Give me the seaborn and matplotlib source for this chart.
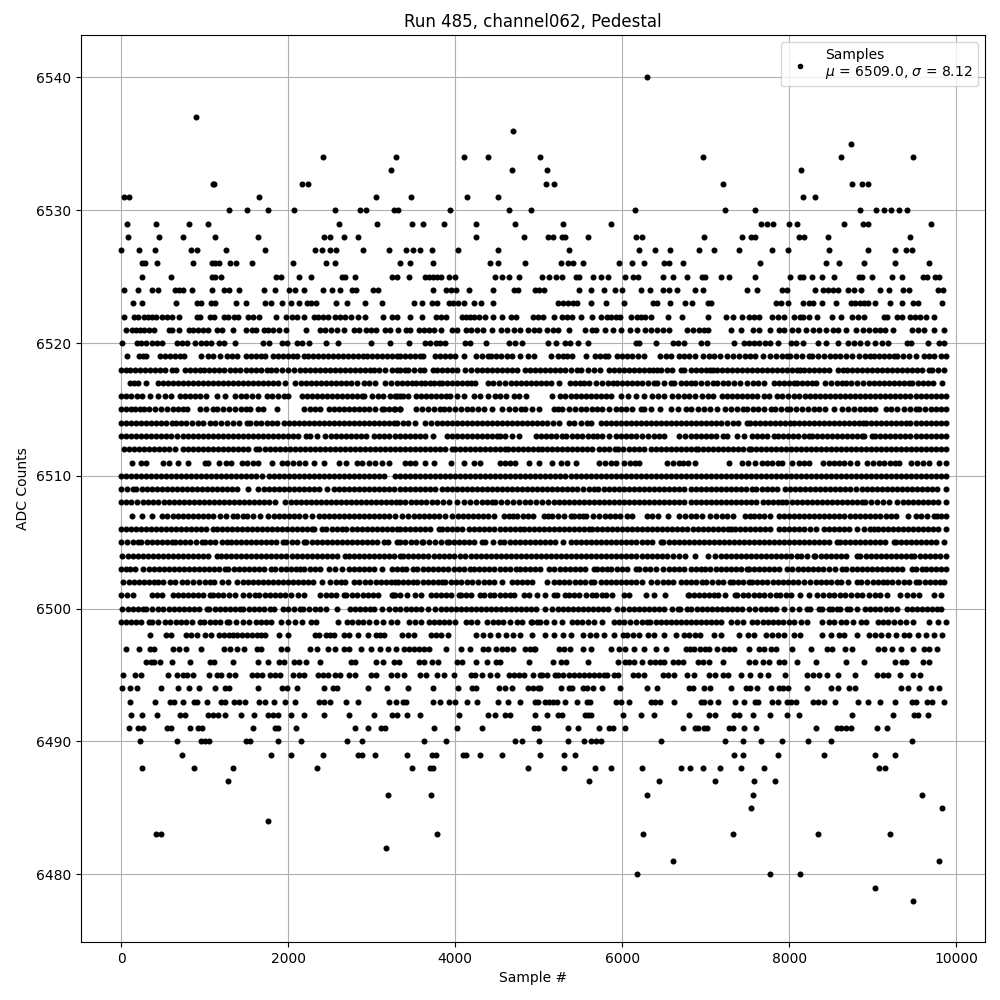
# Pedestal samples for one channel (one list per ADC value)
import pandas as pd
import matplotlib
matplotlib.use("Agg")
import matplotlib.pyplot as plt
import seaborn as sns

lvl_6540 = [6300]
lvl_6537 = [900]
lvl_6536 = [4692]
lvl_6535 = [8743]
lvl_6534 = [2412, 3288, 4104, 4392, 5020, 6971, 8623, 9485]
lvl_6533 = [3228, 4680, 5103, 8144]
lvl_6532 = [1100, 1115, 2160, 2232, 5092, 5187, 7210, 8754, 8874, 8946]
lvl_6531 = [32, 100, 1656, 3048, 3468, 4144, 4512, 8168, 8312]
lvl_6530 = [1296, 1512, 1764, 2064, 2556, 2856, 2928, 3272, 3312, 3936, 4644, 4908, 6157, 7234, 7593, 8850, 9042, 9137, 9221, 9317, 9413]
lvl_6529 = [72, 420, 816, 1044, 2604, 3060, 3480, 3612, 3864, 4248, 4716, 5295, 5870, 7665, 7737, 7809, 8000, 8096, 8659, 8886, 8946, 9700]
lvl_6528 = [84, 456, 744, 1128, 1644, 2424, 2496, 2664, 2832, 4248, 4824, 5115, 5175, 5283, 5319, 5594, 6169, 6241, 6983, 7437, 7545, 7593, 8120, 8180, 8467, 9449]
lvl_6527 = [0, 216, 408, 840, 904, 1260, 1728, 2316, 2400, 2496, 2576, 2892, 3204, 3408, 3492, 3576, 3720, 4032, 4512, 5367, 6205, 6396, 6576, 6923, 7102, 7402, 7797, 7988, 8479, 8946, 9269, 9401, 9473]
lvl_6526 = [252, 284, 432, 864, 1092, 1124, 1176, 1308, 1376, 1568, 2052, 2448, 2556, 3336, 3456, 3732, 4416, 4512, 4836, 5271, 5355, 5415, 5534, 5965, 6121, 6265, 6504, 6564, 6731, 7653, 8443, 8599, 8898, 9269, 9676]
lvl_6525 = [252, 600, 1092, 1124, 1200, 1852, 1920, 2124, 2268, 2640, 2684, 2796, 3240, 3300, 3444, 3636, 3684, 3732, 3780, 3828, 3924, 3996, 4476, 4560, 4644, 4764, 5044, 5127, 5211, 5283, 5451, 5487, 5654, 5750, 5834, 6037, 6133, 6193, 6492, 6612, 6779, 6959, 6995, 7186, 7282, 7593, 8012, 8132, 8168, 8275, 8395, 8539, 8838, 8874, 8994, 9233, 9353, 9604, 9652, 9748, 9796]
lvl_6524 = [36, 204, 372, 444, 648, 696, 744, 852, 1092, 1236, 1296, 1416, 1716, 1848, 2016, 2076, 2184, 2412, 2520, 2616, 2760, 2808, 3012, 3072, 3732, 3888, 3948, 4008, 4164, 4452, 4704, 4752, 4956, 5008, 5068, 5487, 5630, 5786, 5917, 6001, 6229, 6336, 6492, 6564, 6660, 6875, 6971, 7497, 7617, 7916, 7976, 8312, 8407, 8467, 8527, 8587, 8706, 8778, 8862, 9089, 9197, 9365, 9437, 9784, 9844]
lvl_6523 = [144, 252, 660, 912, 960, 1080, 1128, 1380, 1500, 1728, 1800, 1932, 2028, 2128, 2220, 2268, 2328, 2568, 2700, 2916, 3120, 3504, 3600, 3720, 3780, 3924, 3972, 4032, 4104, 4224, 4308, 4452, 5235, 5295, 5355, 5415, 5455, 5630, 5810, 6025, 6372, 6420, 6576, 6755, 6839, 7031, 7067, 7845, 7905, 7988, 8168, 8240, 8288, 8395, 8563, 8742, 8790, 8850, 8898, 8946, 9030, 9209, 9353, 9484, 9544, 9832]
lvl_6522 = [36, 156, 204, 276, 324, 372, 420, 492, 552, 612, 696, 912, 948, 1068, 1116, 1236, 1284, 1356, 1404, 1524, 1584, 1656, 1860, 1980, 2040, 2100, 2184, 2304, 2352, 2412, 2472, 2556, 2616, 2676, 2748, 2832, 2916, 3132, 3240, 3300, 3456, 3600, 3768, 3828, 3888, 4080, 4128, 4176, 4224, 4284, 4356, 4452, 4560, 4668, 4728, 4936, 4996, 5056, 5187, 5283, 5343, 5403, 5511, 5642, 5750, 5822, 5870, 5929, 5977, 6109, 6181, 6229, 6277, 6348, 6552, 6719, 7031, 7246, 7330, 7437, 7521, 7581, 7641, 7797, 7869, 7940, 8060, 8132, 8168, 8240, 8336, 8515, 8623, 8754, 8826, 8898, 9137, 9173, 9293, 9353, 9449, 9508, 9568, 9640, 9736]
lvl_6521 = [60, 132, 180, 228, 276, 336, 396, 576, 612, 696, 816, 864, 924, 984, 1044, 1152, 1212, 1344, 1500, 1572, 1620, 1716, 1764, 1824, 1896, 1980, 2208, 2376, 2436, 2508, 2580, 2664, 2784, 2844, 2928, 2988, 3048, 3156, 3216, 3312, 3408, 3456, 3564, 3624, 3684, 3744, 3828, 3960, 4020, 4128, 4188, 4260, 4332, 4440, 4548, 4620, 4704, 4776, 4872, 4944, 5004, 5103, 5175, 5235, 5367, 5558, 5642, 5690, 5798, 5893, 5989, 6097, 6181, 6277, 6348, 6420, 6492, 6564, 6779, 6851, 6923, 6983, 7031, 7306, 7426, 7569, 7641, 7773, 7880, 7940, 8036, 8108, 8204, 8288, 8359, 8443, 8527, 8587, 8683, 8802, 8886, 8957, 9030, 9089, 9149, 9245, 9473, 9544, 9616, 9736, 9856]
lvl_6520 = [12, 192, 240, 300, 372, 432, 492, 672, 732, 792, 888, 960, 1020, 1080, 1176, 1236, 1368, 1704, 1776, 1932, 1992, 2100, 2160, 2244, 2448, 2592, 2988, 3216, 3444, 3636, 3696, 3768, 3816, 3876, 4116, 4176, 4368, 4644, 4716, 4800, 5115, 5211, 5319, 5379, 5475, 5594, 6169, 6205, 6408, 6612, 6672, 6744, 6947, 7019, 7342, 7462, 7521, 7581, 7641, 7713, 7773, 7869, 8024, 8084, 8168, 8347, 8443, 8587, 8706, 8778, 8850, 8934, 9030, 9113, 9185, 9413, 9460, 9664, 9796, 9856]
lvl_6519 = [72, 216, 260, 304, 464, 520, 580, 640, 700, 752, 960, 1044, 1100, 1184, 1264, 1330, 1392, 1492, 1550, 1610, 1670, 1724, 1816, 1880, 1940, 2000, 2060, 2104, 2184, 2240, 2300, 2360, 2420, 2480, 2540, 2600, 2660, 2720, 2780, 2840, 2900, 2944, 3004, 3060, 3120, 3180, 3240, 3300, 3344, 3400, 3460, 3520, 3580, 3620, 3752, 3820, 3880, 3940, 4000, 4108, 4252, 4320, 4388, 4428, 4490, 4550, 4620, 4680, 4780, 4868, 4940, 5152, 5232, 5290, 5340, 5400, 5560, 5668, 5730, 5790, 5828, 5940, 6000, 6060, 6120, 6190, 6260, 6452, 6520, 6580, 6680, 6740, 6800, 6871, 6963, 7043, 7099, 7170, 7251, 7331, 7400, 7470, 7530, 7591, 7683, 7771, 7840, 7910, 7971, 8011, 8080, 8150, 8231, 8271, 8340, 8420, 8491, 8551, 8611, 8680, 8751, 8831, 8900, 8960, 9011, 9070, 9130, 9190, 9251, 9291, 9360, 9430, 9511, 9611, 9670, 9731, 9811, 9871]
lvl_6518 = [0, 55, 112, 170, 228, 290, 350, 410, 470, 530, 604, 656, 764, 824, 890, 944, 992, 1050, 1110, 1170, 1230, 1300, 1364, 1424, 1490, 1550, 1610, 1676, 1744, 1792, 1860, 1930, 2000, 2064, 2136, 2204, 2260, 2320, 2380, 2440, 2500, 2560, 2620, 2680, 2740, 2800, 2860, 2920, 2980, 3024, 3084, 3164, 3244, 3300, 3344, 3400, 3440, 3510, 3580, 3628, 3732, 3780, 3840, 3900, 3960, 4020, 4120, 4190, 4260, 4320, 4380, 4440, 4500, 4560, 4620, 4680, 4740, 4840, 4900, 4960, 5020, 5080, 5140, 5200, 5260, 5320, 5390, 5460, 5508, 5588, 5660, 5732, 5840, 5900, 5960, 6020, 6080, 6140, 6200, 6260, 6320, 6370, 6420, 6460, 6530, 6600, 6700, 6740, 6820, 6880, 6940, 7000, 7050, 7091, 7131, 7190, 7250, 7310, 7370, 7430, 7490, 7550, 7610, 7670, 7730, 7790, 7850, 7910, 7970, 8030, 8090, 8131, 8179, 8240, 8300, 8350, 8411, 8471, 8579, 8640, 8691, 8751, 8810, 8870, 8930, 8990, 9050, 9110, 9170, 9230, 9290, 9350, 9410, 9470, 9530, 9590, 9671, 9711, 9780, 9851]
lvl_6517 = [104, 150, 204, 304, 444, 500, 560, 620, 680, 740, 800, 860, 920, 980, 1040, 1100, 1160, 1220, 1280, 1340, 1400, 1460, 1520, 1580, 1640, 1700, 1760, 1820, 1880, 1964, 2084, 2150, 2210, 2270, 2330, 2390, 2450, 2510, 2570, 2630, 2690, 2750, 2824, 2904, 2970, 3044, 3164, 3230, 3304, 3360, 3420, 3480, 3532, 3590, 3640, 3692, 3740, 3800, 3840, 3900, 3960, 4020, 4080, 4140, 4190, 4240, 4388, 4450, 4520, 4600, 4668, 4730, 4790, 4850, 4910, 4970, 5030, 5090, 5150, 5240, 5368, 5430, 5490, 5540, 5600, 5680, 5760, 5830, 5892, 5940, 6000, 6060, 6120, 6180, 6240, 6310, 6380, 6420, 6500, 6580, 6620, 6700, 6760, 6820, 6871, 6939, 7010, 7083, 7131, 7200, 7270, 7340, 7411, 7491, 7560, 7630, 7699, 7811, 7870, 7930, 7990, 8051, 8091, 8150, 8210, 8270, 8323, 8431, 8499, 8570, 8630, 8683, 8739, 8811, 8883, 8950, 9010, 9070, 9130, 9190, 9250, 9310, 9370, 9430, 9471, 9539, 9603, 9660, 9723, 9831]
lvl_6516 = [0, 60, 120, 190, 256, 352, 444, 520, 592, 704, 770, 830, 890, 950, 1016, 1144, 1244, 1364, 1430, 1500, 1570, 1644, 1744, 1810, 1880, 1950, 2004, 2164, 2230, 2290, 2350, 2410, 2470, 2530, 2590, 2650, 2710, 2770, 2830, 2884, 2904, 3004, 3070, 3140, 3224, 3284, 3344, 3300, 3370, 3440, 3532, 3590, 3650, 3710, 3770, 3830, 3892, 3940, 4020, 4100, 4220, 4300, 4390, 4480, 4540, 4612, 4700, 4760, 4852, 5160, 5260, 5320, 5380, 5440, 5500, 5560, 5620, 5680, 5740, 5800, 5860, 5980, 6070, 6160, 6260, 6360, 6430, 6500, 6600, 6670, 6740, 6800, 6870, 6950, 7020, 7091, 7191, 7250, 7310, 7370, 7430, 7490, 7550, 7610, 7691, 7751, 7851, 7910, 7980, 8050, 8111, 8191, 8251, 8311, 8370, 8430, 8490, 8550, 8610, 8670, 8730, 8790, 8850, 8910, 8970, 9030, 9090, 9150, 9210, 9270, 9330, 9390, 9450, 9510, 9570, 9630, 9690, 9750, 9810, 9871]
lvl_6515 = [0, 60, 120, 170, 224, 272, 340, 410, 480, 550, 624, 684, 740, 792, 944, 1020, 1104, 1152, 1220, 1290, 1360, 1430, 1500, 1544, 1644, 1704, 1872, 2192, 2260, 2320, 2384, 2484, 2550, 2610, 2670, 2730, 2790, 2844, 2910, 2970, 3040, 3124, 3144, 3204, 3270, 3344, 3280, 3340, 3532, 3600, 3670, 3750, 3820, 3860, 3930, 4000, 4070, 4140, 4200, 4270, 4350, 4440, 4560, 4640, 4710, 4788, 4840, 4920, 5000, 5180, 5232, 5280, 5360, 5430, 5500, 5570, 5640, 5692, 5760, 5840, 5920, 5980, 6050, 6120, 6220, 6260, 6340, 6452, 6580, 6670, 6760, 6823, 6911, 6980, 7051, 7139, 7231, 7300, 7370, 7443, 7491, 7560, 7630, 7700, 7779, 7831, 7900, 7971, 8011, 8080, 8150, 8220, 8290, 8360, 8430, 8531, 8631, 8700, 8770, 8840, 8910, 8970, 9031, 9151, 9220, 9291, 9371, 9440, 9511, 9551, 9620, 9690, 9760, 9820, 9871]
lvl_6514 = [0, 60, 120, 180, 240, 300, 360, 420, 480, 540, 604, 656, 720, 780, 850, 920, 984, 1064, 1130, 1200, 1270, 1340, 1410, 1504, 1544, 1610, 1680, 1750, 1810, 1872, 1952, 2010, 2070, 2130, 2190, 2250, 2310, 2370, 2430, 2490, 2550, 2610, 2670, 2730, 2790, 2850, 2910, 2970, 3030, 3090, 3150, 3210, 3270, 3304, 3380, 3440, 3520, 3640, 3710, 3780, 3840, 3900, 3960, 4020, 4080, 4140, 4200, 4260, 4320, 4380, 4440, 4500, 4560, 4620, 4680, 4740, 4800, 4860, 4920, 4980, 5040, 5100, 5170, 5240, 5360, 5420, 5500, 5580, 5620, 5740, 5800, 5860, 5920, 5980, 6040, 6100, 6160, 6220, 6280, 6340, 6400, 6460, 6520, 6580, 6640, 6700, 6760, 6820, 6883, 6939, 7000, 7060, 7120, 7179, 7251, 7320, 7390, 7491, 7531, 7591, 7650, 7710, 7770, 7830, 7890, 7950, 8010, 8060, 8111, 8171, 8230, 8290, 8350, 8410, 8470, 8530, 8590, 8650, 8710, 8770, 8830, 8883, 8923, 8980, 9040, 9100, 9160, 9220, 9280, 9340, 9400, 9443, 9511, 9579, 9640, 9700, 9760, 9820, 9871]
lvl_6513 = [0, 60, 120, 180, 240, 300, 360, 420, 480, 540, 600, 672, 744, 800, 860, 920, 980, 1040, 1100, 1160, 1220, 1280, 1340, 1400, 1460, 1520, 1580, 1640, 1700, 1760, 1820, 1880, 1940, 2000, 2060, 2120, 2216, 2264, 2344, 2444, 2510, 2570, 2630, 2690, 2750, 2810, 2870, 2930, 3024, 3084, 3150, 3210, 3280, 3344, 3400, 3460, 3520, 3580, 3640, 3732, 3900, 3960, 4020, 4080, 4140, 4200, 4260, 4320, 4380, 4440, 4500, 4540, 4600, 4680, 4760, 4972, 5030, 5090, 5150, 5210, 5280, 5332, 5400, 5452, 5520, 5590, 5650, 5700, 5760, 5840, 5920, 5990, 6050, 6100, 6160, 6240, 6310, 6380, 6440, 6500, 6680, 6750, 6820, 6880, 6940, 7000, 7060, 7120, 7203, 7251, 7379, 7459, 7551, 7611, 7671, 7731, 7811, 7859, 7920, 7980, 8040, 8100, 8170, 8231, 8271, 8330, 8390, 8450, 8510, 8570, 8630, 8690, 8750, 8810, 8871, 8899, 8991, 9031, 9090, 9150, 9210, 9270, 9330, 9390, 9450, 9510, 9570, 9630, 9690, 9750, 9810, 9871]
lvl_6512 = [32, 90, 150, 210, 270, 330, 390, 450, 510, 576, 644, 736, 800, 860, 920, 980, 1040, 1100, 1160, 1220, 1280, 1340, 1400, 1460, 1520, 1616, 1656, 1720, 1780, 1840, 1900, 1960, 2020, 2080, 2140, 2200, 2260, 2320, 2380, 2440, 2500, 2560, 2620, 2680, 2740, 2800, 2860, 2920, 2980, 3040, 3100, 3160, 3220, 3280, 3344, 3400, 3460, 3520, 3580, 3640, 3700, 3760, 3820, 3880, 3960, 4000, 4060, 4120, 4180, 4240, 4300, 4360, 4420, 4480, 4540, 4600, 4628, 4690, 4750, 4810, 4870, 4930, 4988, 5040, 5100, 5160, 5220, 5280, 5340, 5400, 5460, 5520, 5580, 5640, 5720, 5780, 5840, 5908, 5948, 6012, 6080, 6140, 6200, 6260, 6340, 6400, 6460, 6520, 6580, 6640, 6700, 6760, 6820, 6883, 6911, 6970, 7030, 7090, 7150, 7210, 7270, 7330, 7390, 7450, 7511, 7539, 7600, 7660, 7720, 7780, 7840, 7900, 7960, 8020, 8080, 8140, 8200, 8260, 8320, 8380, 8440, 8500, 8560, 8620, 8680, 8740, 8800, 8860, 8920, 8980, 9040, 9100, 9160, 9220, 9280, 9340, 9400, 9460, 9520, 9580, 9640, 9700, 9760, 9820, 9871]
lvl_6511 = [132, 244, 304, 504, 576, 684, 804, 1004, 1044, 1176, 1256, 1312, 1444, 1510, 1584, 1644, 1804, 1924, 1990, 2060, 2130, 2200, 2304, 2424, 2604, 2696, 2824, 2884, 2964, 3040, 3120, 3204, 3400, 3460, 3520, 3640, 3740, 3952, 4100, 4220, 4300, 4540, 4600, 4660, 4720, 4880, 5000, 5160, 5268, 5340, 5440, 5720, 5790, 5860, 5920, 6020, 6090, 6150, 6200, 6540, 6610, 6680, 6731, 6791, 6871, 7283, 7431, 7510, 7591, 7671, 7730, 7791, 7859, 7911, 8031, 8111, 8170, 8231, 8403, 8471, 8530, 8591, 8651, 8731, 8811, 8931, 9000, 9070, 9131, 9203, 9260, 9311, 9451, 9530, 9600, 9671, 9791, 9871]
lvl_6510 = [0, 60, 120, 180, 240, 300, 360, 420, 480, 540, 600, 660, 720, 780, 840, 900, 960, 1020, 1080, 1140, 1200, 1260, 1320, 1380, 1440, 1500, 1560, 1620, 1690, 1770, 1830, 1890, 1950, 2010, 2070, 2130, 2190, 2250, 2310, 2370, 2430, 2490, 2550, 2610, 2670, 2730, 2790, 2850, 2910, 2970, 3030, 3090, 3150, 3284, 3340, 3400, 3460, 3520, 3580, 3640, 3700, 3760, 3820, 3880, 3940, 4000, 4060, 4120, 4180, 4240, 4300, 4360, 4420, 4480, 4540, 4600, 4660, 4720, 4780, 4840, 4900, 4960, 5020, 5080, 5140, 5200, 5260, 5320, 5380, 5440, 5500, 5560, 5620, 5680, 5740, 5800, 5860, 5920, 5980, 6040, 6100, 6160, 6220, 6280, 6340, 6400, 6460, 6520, 6580, 6640, 6700, 6760, 6820, 6880, 6940, 7000, 7060, 7120, 7180, 7240, 7300, 7360, 7420, 7480, 7540, 7600, 7660, 7720, 7780, 7840, 7900, 7960, 8020, 8080, 8140, 8200, 8260, 8320, 8380, 8440, 8500, 8560, 8620, 8680, 8740, 8800, 8860, 8920, 8980, 9040, 9100, 9160, 9220, 9280, 9340, 9400, 9460, 9520, 9580, 9640, 9700, 9760, 9820, 9871]
lvl_6509 = [0, 70, 144, 184, 250, 310, 370, 430, 490, 550, 610, 670, 730, 790, 850, 910, 970, 1030, 1090, 1150, 1210, 1270, 1330, 1392, 1524, 1644, 1710, 1770, 1830, 1890, 1950, 2010, 2070, 2130, 2190, 2250, 2310, 2370, 2464, 2544, 2610, 2670, 2730, 2790, 2850, 2910, 2970, 3030, 3090, 3150, 3210, 3270, 3344, 3400, 3460, 3520, 3580, 3640, 3700, 3760, 3840, 3900, 3960, 4020, 4080, 4140, 4200, 4260, 4320, 4380, 4440, 4500, 4560, 4620, 4680, 4740, 4800, 4860, 4920, 4980, 5040, 5100, 5160, 5220, 5280, 5340, 5400, 5460, 5530, 5600, 5660, 5708, 5780, 5840, 5900, 5960, 6020, 6080, 6140, 6200, 6260, 6320, 6380, 6440, 6500, 6560, 6620, 6680, 6740, 6820, 6880, 6940, 7000, 7060, 7120, 7180, 7240, 7300, 7360, 7420, 7480, 7551, 7603, 7670, 7730, 7790, 7851, 7951, 8010, 8070, 8130, 8190, 8250, 8310, 8370, 8430, 8490, 8550, 8610, 8670, 8731, 8803, 8870, 8930, 8990, 9050, 9110, 9170, 9230, 9290, 9350, 9410, 9470, 9530, 9590, 9650, 9710, 9770, 9871]
lvl_6508 = [0, 60, 120, 190, 260, 324, 384, 444, 510, 570, 630, 690, 750, 810, 870, 930, 990, 1050, 1110, 1170, 1230, 1290, 1350, 1410, 1470, 1530, 1590, 1650, 1710, 1770, 1844, 1964, 2030, 2090, 2150, 2210, 2270, 2330, 2390, 2450, 2510, 2570, 2630, 2690, 2750, 2810, 2870, 2930, 2990, 3050, 3110, 3170, 3230, 3290, 3344, 3400, 3470, 3530, 3590, 3650, 3720, 3780, 3850, 3920, 4020, 4108, 4180, 4250, 4320, 4380, 4440, 4480, 4550, 4620, 4690, 4760, 4840, 4900, 4970, 5040, 5110, 5180, 5240, 5300, 5360, 5420, 5480, 5540, 5600, 5660, 5720, 5780, 5840, 5900, 5960, 6020, 6080, 6140, 6200, 6260, 6320, 6380, 6440, 6500, 6560, 6620, 6680, 6740, 6820, 6880, 6940, 7000, 7060, 7120, 7180, 7240, 7300, 7360, 7420, 7480, 7540, 7603, 7683, 7750, 7810, 7860, 7911, 7963, 8030, 8090, 8150, 8210, 8270, 8330, 8390, 8450, 8510, 8570, 8630, 8690, 8750, 8810, 8871, 8911, 8980, 9050, 9120, 9191, 9291, 9360, 9420, 9480, 9540, 9600, 9660, 9720, 9780, 9871]
lvl_6507 = [132, 252, 364, 484, 550, 620, 680, 740, 800, 860, 920, 980, 1040, 1104, 1184, 1260, 1344, 1384, 1464, 1504, 1580, 1664, 1764, 1830, 1890, 1950, 2010, 2070, 2130, 2200, 2284, 2364, 2424, 2484, 2550, 2610, 2670, 2730, 2790, 2850, 2910, 2970, 3030, 3090, 3150, 3210, 3284, 3360, 3440, 3510, 3570, 3630, 3690, 3750, 3810, 3880, 3960, 4030, 4090, 4150, 4210, 4270, 4330, 4390, 4460, 4580, 4640, 4692, 4740, 4810, 4870, 4932, 5060, 5110, 5160, 5232, 5300, 5380, 5420, 5480, 5532, 5560, 5652, 5720, 5790, 5850, 5910, 5970, 6060, 6120, 6300, 6360, 6428, 6548, 6680, 6750, 6820, 6883, 6951, 7051, 7120, 7190, 7251, 7323, 7471, 7530, 7579, 7631, 7700, 7770, 7871, 7939, 8000, 8060, 8120, 8180, 8240, 8300, 8360, 8420, 8480, 8540, 8600, 8660, 8720, 8780, 8840, 8900, 8960, 9020, 9091, 9151, 9211, 9271, 9419, 9511, 9580, 9650, 9731, 9771, 9820, 9871]
lvl_6506 = [0, 60, 120, 180, 240, 300, 360, 420, 480, 540, 600, 660, 720, 780, 840, 900, 960, 1020, 1104, 1144, 1210, 1270, 1330, 1390, 1450, 1510, 1570, 1630, 1690, 1750, 1810, 1870, 1930, 1990, 2050, 2110, 2170, 2230, 2284, 2304, 2404, 2452, 2520, 2580, 2644, 2692, 2760, 2820, 2880, 2940, 3000, 3060, 3120, 3180, 3240, 3300, 3344, 3400, 3460, 3520, 3580, 3640, 3700, 3800, 3840, 3900, 3960, 4020, 4080, 4160, 4230, 4290, 4350, 4410, 4470, 4530, 4590, 4650, 4710, 4780, 4820, 4880, 4940, 5000, 5060, 5120, 5180, 5240, 5300, 5360, 5420, 5480, 5540, 5600, 5632, 5700, 5760, 5820, 5880, 5940, 6000, 6060, 6120, 6180, 6240, 6300, 6360, 6420, 6480, 6540, 6600, 6660, 6720, 6780, 6850, 6910, 6970, 7030, 7090, 7150, 7210, 7271, 7299, 7351, 7410, 7470, 7530, 7590, 7650, 7710, 7770, 7871, 7930, 7990, 8050, 8110, 8170, 8243, 8323, 8411, 8470, 8530, 8590, 8650, 8710, 8811, 8899, 8960, 9011, 9059, 9120, 9180, 9240, 9300, 9360, 9420, 9480, 9540, 9600, 9660, 9720, 9780, 9871]
lvl_6505 = [0, 70, 140, 204, 244, 310, 370, 430, 490, 550, 604, 644, 710, 770, 830, 900, 964, 1004, 1070, 1130, 1204, 1264, 1312, 1380, 1440, 1500, 1560, 1620, 1680, 1740, 1800, 1860, 1944, 1976, 2040, 2100, 2184, 2216, 2280, 2340, 2400, 2460, 2520, 2580, 2640, 2700, 2760, 2820, 2880, 2940, 3004, 3064, 3144, 3192, 3300, 3340, 3400, 3470, 3530, 3600, 3620, 3690, 3760, 3830, 3900, 3920, 3990, 4050, 4110, 4170, 4230, 4320, 4360, 4450, 4540, 4580, 4650, 4710, 4770, 4830, 4890, 4950, 5010, 5070, 5130, 5190, 5292, 5388, 5450, 5510, 5570, 5630, 5690, 5750, 5810, 5870, 5930, 5990, 6050, 6110, 6170, 6230, 6290, 6350, 6460, 6492, 6560, 6620, 6680, 6740, 6800, 6860, 6920, 6980, 7040, 7100, 7160, 7220, 7280, 7340, 7400, 7460, 7520, 7580, 7640, 7700, 7760, 7820, 7880, 7940, 8000, 8060, 8120, 8180, 8240, 8300, 8360, 8420, 8480, 8571, 8603, 8670, 8730, 8790, 8850, 8910, 8970, 9030, 9090, 9150, 9251, 9271, 9340, 9400, 9460, 9520, 9580, 9640, 9700, 9760, 9851]
lvl_6504 = [16, 80, 140, 200, 260, 320, 380, 440, 500, 560, 620, 680, 740, 800, 860, 920, 980, 1040, 1144, 1192, 1260, 1320, 1380, 1440, 1500, 1560, 1620, 1680, 1740, 1800, 1860, 1920, 1980, 2040, 2100, 2160, 2220, 2280, 2340, 2400, 2460, 2520, 2580, 2684, 2724, 2790, 2850, 2910, 2970, 3030, 3090, 3150, 3210, 3270, 3340, 3372, 3440, 3500, 3560, 3620, 3680, 3740, 3800, 3860, 3920, 3980, 4052, 4120, 4190, 4250, 4310, 4370, 4430, 4490, 4550, 4610, 4670, 4730, 4790, 4850, 4910, 4970, 5030, 5090, 5150, 5210, 5270, 5330, 5390, 5450, 5510, 5570, 5630, 5690, 5750, 5810, 5870, 5930, 5990, 6050, 6110, 6170, 6230, 6290, 6350, 6410, 6470, 6540, 6612, 6680, 6750, 6871, 7031, 7111, 7180, 7240, 7300, 7360, 7420, 7480, 7540, 7600, 7660, 7720, 7780, 7840, 7900, 7960, 8020, 8091, 8139, 8210, 8291, 8311, 8380, 8440, 8500, 8560, 8620, 8680, 8811, 8851, 8920, 8980, 9040, 9100, 9160, 9220, 9280, 9340, 9400, 9451, 9491, 9560, 9620, 9680, 9740, 9800, 9871]
lvl_6503 = [0, 60, 104, 164, 264, 330, 390, 450, 510, 570, 630, 690, 750, 810, 870, 930, 990, 1050, 1110, 1170, 1244, 1284, 1350, 1410, 1470, 1530, 1590, 1650, 1710, 1792, 1844, 1910, 1970, 2030, 2090, 2144, 2192, 2260, 2320, 2380, 2484, 2564, 2640, 2724, 2784, 2850, 2910, 2970, 3030, 3124, 3244, 3300, 3360, 3412, 3500, 3540, 3610, 3670, 3730, 3790, 3850, 3910, 3980, 4040, 4110, 4180, 4220, 4280, 4350, 4410, 4470, 4530, 4590, 4650, 4732, 4772, 4840, 4900, 4960, 5020, 5120, 5180, 5250, 5310, 5370, 5430, 5490, 5550, 5660, 5700, 5760, 5812, 5868, 5940, 6000, 6060, 6160, 6200, 6270, 6330, 6400, 6492, 6560, 6620, 6680, 6740, 6820, 6880, 6940, 6991, 7051, 7120, 7180, 7240, 7300, 7360, 7420, 7491, 7511, 7580, 7640, 7700, 7760, 7820, 7880, 7971, 8031, 8100, 8160, 8220, 8280, 8340, 8403, 8471, 8550, 8631, 8683, 8750, 8810, 8870, 8930, 8990, 9050, 9110, 9170, 9230, 9290, 9350, 9471, 9511, 9591, 9631, 9700, 9760, 9820, 9871]
lvl_6502 = [24, 90, 150, 210, 270, 330, 390, 444, 504, 584, 650, 724, 792, 860, 930, 1000, 1064, 1112, 1204, 1284, 1392, 1460, 1520, 1580, 1640, 1700, 1760, 1820, 1880, 1940, 2000, 2060, 2120, 2180, 2240, 2300, 2404, 2504, 2570, 2630, 2684, 2784, 2850, 2924, 2984, 3050, 3110, 3170, 3230, 3284, 3320, 3380, 3440, 3500, 3540, 3610, 3670, 3730, 3790, 3840, 3880, 3950, 4010, 4070, 4140, 4200, 4270, 4340, 4400, 4468, 4560, 4680, 4740, 4800, 4860, 4920, 5100, 5180, 5240, 5300, 5360, 5430, 5490, 5550, 5620, 5660, 5740, 5810, 5870, 5930, 5990, 6050, 6110, 6170, 6230, 6340, 6420, 6490, 6550, 6610, 6700, 6760, 6820, 6880, 6951, 7003, 7071, 7140, 7210, 7291, 7323, 7390, 7450, 7511, 7551, 7610, 7671, 7731, 7800, 7860, 7920, 7980, 8040, 8100, 8171, 8251, 8320, 8380, 8440, 8500, 8571, 8619, 8700, 8811, 8859, 8931, 9000, 9060, 9120, 9171, 9231, 9300, 9371, 9431, 9511, 9551, 9620, 9680, 9740, 9800, 9851]
lvl_6501 = [0, 70, 144, 364, 430, 484, 616, 680, 740, 800, 860, 920, 980, 1064, 1096, 1160, 1220, 1290, 1364, 1456, 1530, 1604, 1656, 1720, 1780, 1840, 1900, 1960, 2032, 2112, 2184, 2384, 2450, 2510, 2570, 2664, 2696, 2764, 2830, 2890, 2950, 3010, 3072, 3256, 3240, 3280, 3340, 3420, 3520, 3588, 3708, 3770, 3830, 3890, 3950, 4040, 4068, 4130, 4190, 4292, 4340, 4420, 4460, 4530, 4590, 4660, 4708, 4820, 4880, 4980, 5080, 5180, 5220, 5320, 5360, 5420, 5480, 5560, 5640, 5680, 5760, 5800, 5880, 6020, 6084, 6280, 6380, 6508, 6800, 6791, 6859, 6920, 6980, 7040, 7100, 7151, 7231, 7351, 7371, 7440, 7510, 7579, 7631, 7700, 7770, 7843, 7883, 7963, 8019, 8131, 8231, 8331, 8400, 8471, 8531, 8603, 8670, 8740, 8811, 8871, 8951, 9020, 9091, 9163, 9323, 9403, 9480, 9551, 9731, 9819]
lvl_6500 = [16, 80, 140, 200, 264, 296, 364, 444, 504, 570, 630, 690, 750, 810, 870, 930, 1024, 1056, 1120, 1180, 1240, 1300, 1360, 1424, 1464, 1530, 1590, 1650, 1710, 1784, 1832, 1936, 2000, 2070, 2136, 2176, 2250, 2320, 2384, 2456, 2584, 2736, 2800, 2860, 2920, 2980, 3032, 3120, 3204, 3280, 3344, 3410, 3470, 3530, 3590, 3680, 3760, 3830, 3890, 3950, 4010, 4070, 4130, 4190, 4250, 4310, 4370, 4430, 4490, 4550, 4610, 4670, 4730, 4790, 4850, 4910, 4970, 5080, 5160, 5230, 5290, 5350, 5410, 5470, 5530, 5590, 5650, 5710, 5770, 5830, 5940, 6012, 6080, 6140, 6200, 6260, 6320, 6380, 6440, 6500, 6600, 6668, 6780, 6691, 6819, 6890, 6950, 7010, 7070, 7130, 7190, 7250, 7310, 7370, 7430, 7511, 7591, 7660, 7720, 7780, 7840, 7931, 8031, 8120, 8211, 8243, 8351, 8391, 8471, 8511, 8571, 8611, 8691, 8731, 8811, 8911, 8970, 9031, 9091, 9160, 9220, 9291, 9403, 9470, 9530, 9590, 9650, 9710, 9770, 9811]
lvl_6499 = [0, 60, 120, 180, 240, 330, 372, 440, 524, 588, 660, 720, 780, 850, 944, 996, 1060, 1120, 1180, 1264, 1296, 1380, 1464, 1536, 1610, 1670, 1736, 1792, 1920, 2004, 2080, 2168, 2268, 2336, 2592, 2708, 2770, 2840, 2900, 2970, 3048, 3132, 3228, 3300, 3444, 3524, 3588, 3684, 3750, 3810, 3864, 3924, 3996, 4128, 4190, 4264, 4384, 4450, 4512, 4572, 4650, 4744, 4804, 4904, 4916, 4976, 5016, 5088, 5180, 5276, 5396, 5460, 5520, 5590, 5660, 5756, 5896, 5960, 6020, 6090, 6160, 6230, 6296, 6336, 6400, 6460, 6520, 6580, 6640, 6700, 6760, 6820, 6880, 6940, 7000, 7060, 7120, 7180, 7296, 7376, 7450, 7556, 7616, 7680, 7740, 7800, 7860, 7920, 7990, 8056, 8136, 8208, 8396, 8470, 8540, 8616, 8676, 8760, 8856, 8916, 9056, 9116, 9176, 9250, 9320, 9400, 9476, 9676, 9784, 9876]
lvl_6498 = [348, 540, 600, 780, 840, 912, 1008, 1080, 1176, 1236, 1296, 1344, 1392, 1452, 1512, 1572, 1632, 1680, 1728, 1896, 2004, 2316, 2364, 2448, 2496, 2544, 2664, 2724, 2832, 2952, 3048, 3096, 3144, 3360, 3432, 3504, 3708, 3768, 3828, 3912, 4248, 4332, 4416, 4512, 4608, 4692, 4776, 4924, 5080, 5188, 5296, 5380, 5524, 5608, 5690, 5776, 5896, 6004, 6056, 6124, 6196, 6304, 6376, 6496, 6640, 6736, 6800, 6870, 6936, 7096, 7176, 7396, 7504, 7576, 7720, 7790, 7860, 7930, 8056, 8128, 8392, 8500, 8596, 8656, 8812, 8956, 9030, 9096, 9184, 9276, 9376, 9436, 9536, 9640, 9736, 9832]
lvl_6497 = [64, 216, 344, 396, 624, 696, 780, 960, 1236, 1308, 1392, 1476, 1632, 1680, 1920, 1992, 2256, 2340, 2472, 2556, 2664, 2724, 2868, 2988, 3096, 3192, 3288, 3384, 3444, 3504, 3564, 3624, 3684, 3888, 4068, 4176, 4332, 4392, 4492, 4560, 4624, 4696, 4836, 4896, 4956, 4944, 5248, 5300, 5368, 5524, 5620, 5860, 5956, 6036, 6136, 6256, 6400, 6520, 6760, 6816, 6856, 6930, 6996, 7036, 7136, 7216, 7280, 7336, 7516, 7636, 7696, 7776, 7836, 8032, 8260, 8456, 8516, 8668, 8752, 9056, 9136, 9232, 9340, 9484, 9616, 9676, 9768]
lvl_6496 = [300, 360, 396, 468, 612, 828, 1068, 1116, 1344, 1644, 1764, 1896, 1956, 2064, 2124, 2208, 2376, 2748, 2796, 3048, 3132, 3264, 3324, 3564, 3624, 3720, 3792, 4020, 4080, 4248, 4380, 4488, 4536, 4884, 5167, 5271, 5331, 5594, 5953, 6037, 6085, 6145, 6241, 6336, 6396, 6456, 6504, 6612, 6672, 6731, 6911, 6971, 7043, 7210, 7521, 7593, 7689, 7761, 7880, 7940, 8096, 8324, 8683, 8898, 9269, 9353, 9401, 9604, 9676]
lvl_6495 = [24, 168, 240, 564, 672, 744, 792, 864, 1056, 1152, 1200, 1296, 1368, 1572, 1632, 1692, 1788, 1848, 1908, 2052, 2124, 2184, 2352, 2412, 2472, 2556, 2616, 2724, 2796, 2988, 3048, 3228, 3300, 3384, 3576, 3648, 3780, 3864, 3984, 4188, 4236, 4324, 4416, 4504, 4644, 4704, 4764, 4824, 4932, 5020, 5044, 5103, 5200, 5236, 5296, 5356, 5416, 5476, 5536, 5596, 5656, 5716, 5776, 5812, 5896, 5944, 6133, 6193, 6265, 6492, 6552, 6624, 6779, 6863, 7043, 7115, 7210, 7270, 7426, 7533, 7653, 7749, 7952, 8216, 8288, 8359, 8455, 8587, 8790, 9054, 9125, 9185, 9329, 9484, 9568]
lvl_6494 = [12, 108, 192, 480, 684, 816, 936, 1128, 1248, 1296, 1644, 1932, 1992, 2100, 2424, 2532, 2580, 2952, 3180, 3432, 3732, 4032, 4200, 4248, 4524, 4596, 4680, 4872, 4932, 4992, 5016, 5271, 5367, 5403, 5534, 5582, 5654, 5762, 5977, 6300, 6420, 6803, 6851, 6983, 7055, 7298, 7485, 7533, 7617, 7785, 7880, 7928, 7988, 8216, 8503, 8587, 8718, 8790, 9341, 9425, 9556, 9700, 9796]
lvl_6493 = [108, 408, 588, 636, 744, 876, 912, 1032, 1200, 1248, 1356, 1416, 1488, 1656, 1728, 1836, 1968, 2076, 2364, 2424, 2496, 2688, 2832, 3204, 3288, 3372, 3412, 3732, 3816, 3924, 3996, 4140, 4260, 4512, 4632, 4776, 4956, 4992, 5080, 5127, 5175, 5223, 5319, 5463, 5582, 5618, 5930, 5990, 6085, 6348, 6396, 6456, 6624, 6947, 6983, 7055, 7150, 7354, 7462, 7593, 7629, 7797, 7869, 7976, 8024, 8084, 8288, 8347, 8419, 8551, 8826, 8946, 9089, 9269, 9473, 9520, 9652, 9712, 9855]
lvl_6492 = [120, 252, 432, 708, 768, 1044, 1104, 1164, 1248, 1440, 1596, 1764, 1824, 1884, 2028, 2184, 2424, 2724, 3024, 3240, 3300, 3420, 3576, 4044, 4392, 4476, 4596, 4656, 4956, 5103, 5235, 5283, 5558, 5594, 5630, 6013, 6229, 6384, 6803, 7043, 7115, 7342, 7402, 7569, 7773, 7976, 8120, 8754, 9245, 9496, 9544, 9664]
lvl_6491 = [96, 204, 264, 552, 600, 828, 924, 972, 1584, 1848, 1884, 2088, 2796, 2952, 3108, 3156, 3744, 4020, 4320, 4944, 4992, 5355, 5475, 5722, 5846, 5893, 6037, 6731, 6875, 6911, 6983, 7019, 7282, 7330, 7462, 7605, 8324, 8575, 8623, 8683, 8743, 9054, 9173]
lvl_6490 = [228, 672, 960, 1008, 1056, 1500, 1548, 1884, 2148, 2700, 2880, 3624, 3888, 4716, 4800, 5004, 5355, 5546, 5630, 5690, 5750, 6468, 7234, 7450, 7665, 7916, 8228, 8503, 9473]
lvl_6489 = [732, 1800, 2028, 2412, 2832, 2880, 3036, 3420, 3720, 3768, 4092, 4128, 4296, 4560, 5020, 5307, 5439, 7342, 7450, 7869, 8419, 9030, 9269]
lvl_6488 = [252, 876, 1344, 2340, 3480, 3696, 3732, 4872, 5307, 5678, 5870, 6241, 6707, 6815, 6971, 7174, 7426, 7701, 9078, 9150]
lvl_6487 = [1284, 5606, 6444, 7115, 7581, 7833]
lvl_6486 = [3192, 3708, 6300, 7569, 9592]
lvl_6485 = [7545, 9832]
lvl_6484 = [1764]
lvl_6483 = [420, 480, 3780, 6253, 7330, 8347, 9209]
lvl_6482 = [3168]
lvl_6481 = [6612, 9796]
lvl_6480 = [6180, 7773, 8132]
lvl_6479 = [9030]
lvl_6478 = [9485]

adc_levels = [6540, 6537, 6536, 6535, 6534, 6533, 6532, 6531, 6530, 6529, 6528, 6527, 6526, 6525, 6524, 6523, 6522, 6521, 6520,
              6519, 6518, 6517, 6516, 6515, 6514, 6513, 6512, 6511, 6510, 6509, 6508, 6507, 6506, 6505, 6504, 6503, 6502, 6501, 6500,
              6499, 6498, 6497, 6496, 6495, 6494, 6493, 6492, 6491, 6490, 6489, 6488, 6487, 6486, 6485, 6484, 6483, 6482, 6481, 6480, 6479, 6478]
level_samples = [lvl_6540, lvl_6537, lvl_6536, lvl_6535, lvl_6534, lvl_6533, lvl_6532, lvl_6531, lvl_6530, lvl_6529, lvl_6528, lvl_6527, lvl_6526, lvl_6525, lvl_6524, lvl_6523, lvl_6522, lvl_6521, lvl_6520,
                 lvl_6519, lvl_6518, lvl_6517, lvl_6516, lvl_6515, lvl_6514, lvl_6513, lvl_6512, lvl_6511, lvl_6510, lvl_6509, lvl_6508, lvl_6507, lvl_6506, lvl_6505, lvl_6504, lvl_6503, lvl_6502, lvl_6501, lvl_6500,
                 lvl_6499, lvl_6498, lvl_6497, lvl_6496, lvl_6495, lvl_6494, lvl_6493, lvl_6492, lvl_6491, lvl_6490, lvl_6489, lvl_6488, lvl_6487, lvl_6486, lvl_6485, lvl_6484, lvl_6483, lvl_6482, lvl_6481, lvl_6480, lvl_6479, lvl_6478]

# Long table for seaborn
frames = [pd.DataFrame({"sample": s, "adc": lvl}) for lvl, s in zip(adc_levels, level_samples)]
df = pd.concat(frames, ignore_index=True)

fig, ax = plt.subplots(figsize=(10, 10))
sns.scatterplot(data=df, x="sample", y="adc", color="k", marker=".", s=44, linewidth=1, edgecolor="k",
                label="Samples\n$\\mu$ = 6509.0, $\\sigma$ = 8.12", ax=ax, zorder=3)

ax.set_xlim(-480, 10342)
ax.set_ylim(6474.9, 6543.2)
ax.grid(True)
ax.set_axisbelow(True)
ax.set_title("Run 485, channel062, Pedestal")
ax.set_xlabel("Sample #")
ax.set_ylabel("ADC Counts")
ax.legend(loc="upper right", markerscale=0.9)

# Axes box placed to match the reference
fig.subplots_adjust(left=0.081, right=0.985, top=0.965, bottom=0.058)
fig.savefig("out.png", dpi=100)
